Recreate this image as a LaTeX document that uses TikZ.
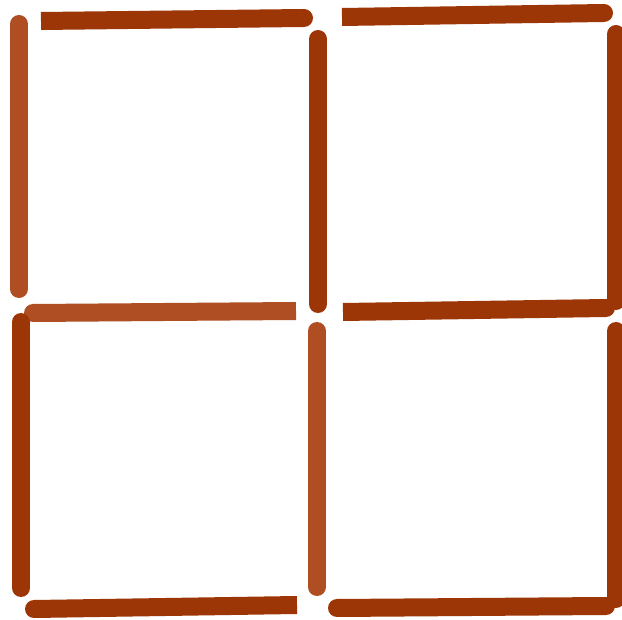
\documentclass[tikz,border=0pt]{standalone}
\definecolor{stickdark}{RGB}{156,54,6}
\definecolor{sticklight}{RGB}{174,78,34}
\tikzset{
  stick/.style={line width=18pt, line cap=butt},
  tip/.style={radius=9pt}
}
% \mstick{color}{x1}{y1}{x2}{y2}{round start 0/1}{round end 0/1}
\newcommand{\mstick}[7]{%
  \draw[stick, draw=#1] (#2,#3) -- (#4,#5);
  \ifnum#6=1 \fill[#1] (#2,#3) circle[tip];\fi
  \ifnum#7=1 \fill[#1] (#4,#5) circle[tip];\fi
}
\begin{document}
\begin{tikzpicture}[x=1pt,y=-1pt]
\useasboundingbox (0,0) rectangle (622,620);
\fill[white] (0,0) rectangle (622,620);
% top row
\mstick{stickdark}{41}{21}{304}{18}{0}{1}
\mstick{stickdark}{342}{17}{604}{13}{0}{1}
% upper verticals
\mstick{sticklight}{19}{24}{19}{289}{1}{1}
\mstick{stickdark}{318}{39}{318}{304}{1}{1}
\mstick{stickdark}{616}{34}{616}{301}{1}{1}
% middle row
\mstick{sticklight}{33}{313}{296}{311}{1}{0}
\mstick{stickdark}{343}{312}{606}{308}{0}{1}
% lower verticals
\mstick{stickdark}{21}{322}{21}{588}{1}{1}
\mstick{sticklight}{317}{331}{317}{587}{1}{1}
\mstick{stickdark}{616}{331}{616}{599}{1}{1}
% bottom row
\mstick{stickdark}{34}{609}{297}{605}{1}{0}
\mstick{stickdark}{337}{608}{606}{606}{1}{1}
\end{tikzpicture}
\end{document}
